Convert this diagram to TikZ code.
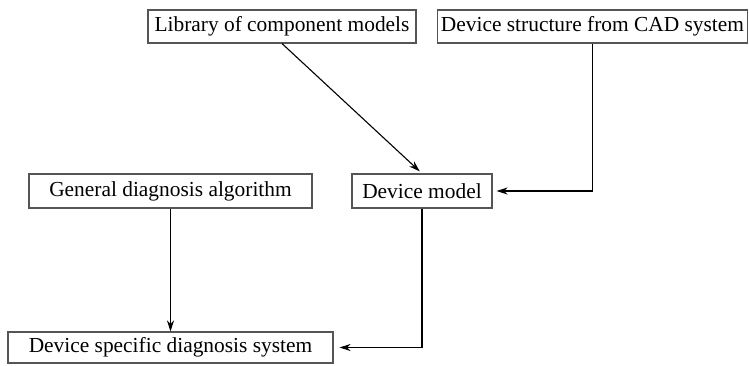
\documentclass[tikz,border=0pt]{standalone}
\usepackage{fontspec}
\setmainfont{Liberation Serif}
\usetikzlibrary{arrows.meta}
\definecolor{boxgray}{RGB}{85,85,85}
\tikzset{
  box/.style={draw=boxgray, line width=1.1pt, rectangle, inner sep=0pt, align=center,
    font=\fontsize{21.4}{25}\selectfont},
  conn/.style={line width=1.1pt, -{Stealth[length=11pt,width=7pt]}}
}
\begin{document}
\begin{tikzpicture}[x=1pt,y=-1pt]
\useasboundingbox (0,0) rectangle (749,365);
\node[box, minimum width=268pt, minimum height=33pt] (lib) at (282,26.5) {Library of component models};
\node[box, minimum width=310pt, minimum height=33pt] (ds) at (592.5,26.5) {Device structure from CAD system};
\node[box, minimum width=283pt, minimum height=34pt] (gen) at (170.5,191) {General diagnosis algorithm};
\node[box, minimum width=140pt, minimum height=34pt] (dm) at (422,191) {Device model};
\node[box, minimum width=325pt, minimum height=31pt] (dsd) at (170.5,347.5) {Device specific diagnosis system};
\draw[conn, shorten >=3pt] (lib.south) -- (dm.north);
\draw[conn, shorten >=4pt] (ds.south) |- (dm.east);
\draw[conn] (gen.south) -- (dsd.north);
\draw[conn, shorten >=6pt] (dm.south) |- (dsd.east);
\end{tikzpicture}
\end{document}
